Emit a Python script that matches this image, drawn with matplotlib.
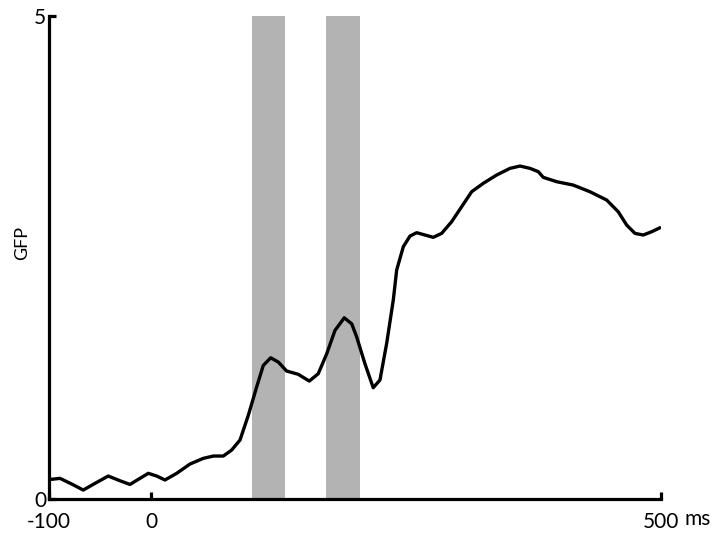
import numpy as np
import matplotlib.pyplot as plt

plt.rcParams['font.family'] = ['Lato', 'DejaVu Sans']

# GFP trace (time in ms, value)
t_ms = [-100, -97.4, -89.2, -77.7, -66.4, -54.9, -41.9, -30.4, -20.6, -10.8, -2.6, 5.6,
        13.7, 25.2, 38.2, 51.3, 61.1, 70.9, 79.1, 87.3, 95.4, 103.6, 110.1, 117.4,
        124.8, 133.0, 144.4, 155.2, 164.0, 172.3, 180.4, 189.5, 196.8, 201.7, 209.8,
        217.9, 224.5, 231.1, 237.6, 240.9, 247.4, 253.9, 260.5, 268.6, 276.8, 285.0,
        294.8, 304.6, 314.4, 325.8, 338.9, 352.0, 361.8, 371.6, 379.7, 384.6, 397.7,
        414.0, 430.4, 446.8, 458.1, 466.4, 474.5, 482.6, 490.9, 499.0]
gfp = [0.21, 0.204, 0.214, 0.155, 0.093, 0.162, 0.238, 0.189, 0.151, 0.214, 0.266, 0.238,
       0.197, 0.266, 0.362, 0.421, 0.445, 0.445, 0.507, 0.611, 0.866, 1.159, 1.383, 1.462,
       1.418, 1.325, 1.291, 1.221, 1.297, 1.504, 1.745, 1.876, 1.814, 1.677, 1.400,
       1.152, 1.232, 1.612, 2.062, 2.371, 2.612, 2.722, 2.757, 2.733, 2.709, 2.750,
       2.871, 3.026, 3.181, 3.268, 3.354, 3.423, 3.447, 3.423, 3.389, 3.330, 3.285,
       3.250, 3.181, 3.095, 2.974, 2.836, 2.750, 2.733, 2.767, 2.808]

# shaded windows (ms)
windows = [(99, 131), (172, 205)]

xticks = [-100, 0, 500]
xticklabels = ['-100', '0', '500']
yticks = [0, 5]

fig = plt.figure(figsize=(7.13, 5.34), dpi=100)
ax = fig.add_axes([0.0687, 0.0655, 0.927 - 0.0687, 0.970 - 0.0655])

for a, b in windows:
    ax.axvspan(a, b, color='#b3b3b3', lw=0, zorder=1)

ax.plot(t_ms, gfp, color='black', lw=2.4, solid_capstyle='round',
        solid_joinstyle='round', zorder=3)

ax.set_xlim(-100, 500)
ax.set_ylim(0, 5)
ax.spines['top'].set_visible(False)
ax.spines['right'].set_visible(False)
for s in ('left', 'bottom'):
    ax.spines[s].set_linewidth(2.3)

ax.set_xticks(xticks)
ax.set_xticklabels(xticklabels)
ax.set_yticks(yticks)
ax.tick_params(direction='in', length=5, width=2.3, labelsize=15)
ax.tick_params(axis='x', pad=9)
ax.tick_params(axis='y', pad=2)

ax.set_ylabel('GFP', fontsize=13)
ax.yaxis.set_label_coords(-0.030, 0.53)
fig.text(685 / 713, (534 - 525) / 534, 'ms', fontsize=15, va='baseline', ha='left')

fig.savefig('out.png', dpi=100)
